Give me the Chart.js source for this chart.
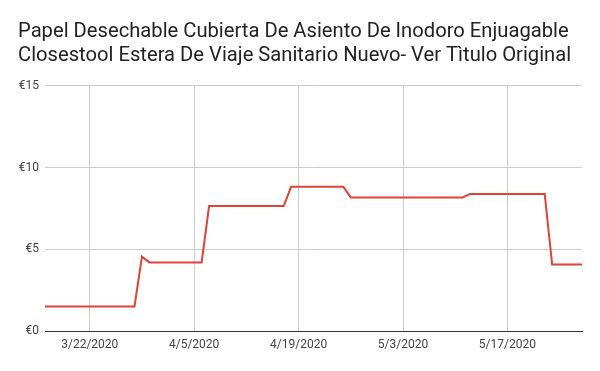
<!DOCTYPE html>
<html><head><meta charset="utf-8">
<script src="https://cdn.jsdelivr.net/npm/chart.js@4"></script>
<style>html,body{margin:0;padding:0;background:#fff}</style>
</head><body>
<canvas id="c" width="600" height="371"></canvas>
<script>
const titleLines = ["Papel Desechable Cubierta De Asiento De Inodoro Enjuagable", "Closestool Estera De Viaje Sanitario Nuevo- Ver Tìtulo Original"];
const dates = ["2020-03-16","2020-03-28","2020-03-29","2020-03-30","2020-04-06","2020-04-07","2020-04-17","2020-04-18","2020-04-25","2020-04-26","2020-05-11","2020-05-12","2020-05-22","2020-05-23","2020-05-27"];
const prices = [1.5,1.5,4.55,4.2,4.2,7.65,7.65,8.83,8.83,8.18,8.18,8.39,8.39,4.07,4.07];
const xTickDates = ["2020-03-22","2020-04-05","2020-04-19","2020-05-03","2020-05-17"];
const yTicks = [0,5,10,15];

const base = Date.UTC(2020,2,22);
const toDay = s => { const [y,m,d] = s.split('-').map(Number); return Math.round((Date.UTC(y,m-1,d)-base)/86400000); };
const fmt = day => { const dt = new Date(base + day*86400000); return (dt.getUTCMonth()+1)+'/'+dt.getUTCDate()+'/'+dt.getUTCFullYear(); };
const points = dates.map((d,i)=>({x: toDay(d), y: prices[i]}));
const xTickVals = xTickDates.map(toDay);

new Chart(document.getElementById('c'), {
  type: 'line',
  data: { datasets: [{ data: points, borderColor: '#db4437', borderWidth: 2, pointRadius: 0, tension: 0, fill: false }] },
  options: {
    responsive: false, animation: false,
    layout: { padding: { left: 18, right: 18, top: 0, bottom: 0 } },
    plugins: {
      legend: { display: false }, tooltip: { enabled: false },
      title: { display: true, text: titleLines, align: 'start', color: '#222222',
        font: { family: 'Roboto', size: 20.2, weight: 'normal', lineHeight: 1.2 },
        padding: { top: 20, bottom: 17.5 } }
    },
    scales: {
      x: { type: 'linear', min: toDay(dates[0]), max: toDay(dates[dates.length-1]),
        afterBuildTicks: s => { s.ticks = xTickVals.map(v=>({value:v})); },
        afterFit: s => { s.height = 40; },
        ticks: { callback: v => fmt(v), color: '#444', font: { family: 'Roboto', size: 12 }, padding: 7, maxRotation: 0, autoSkip: false },
        grid: { color: '#cccccc', drawTicks: false },
        border: { color: '#333333', width: 1 } },
      y: { min: 0, max: 15,
        afterBuildTicks: s => { s.ticks = yTicks.map(v=>({value:v})); },
        afterFit: s => { s.width = 27; },
        ticks: { callback: v => '€' + v, color: '#444', font: { family: 'Roboto', size: 12 }, padding: 6 },
        grid: { color: '#cccccc', drawTicks: false },
        border: { display: false } }
    }
  }
});
</script>
</body></html>
